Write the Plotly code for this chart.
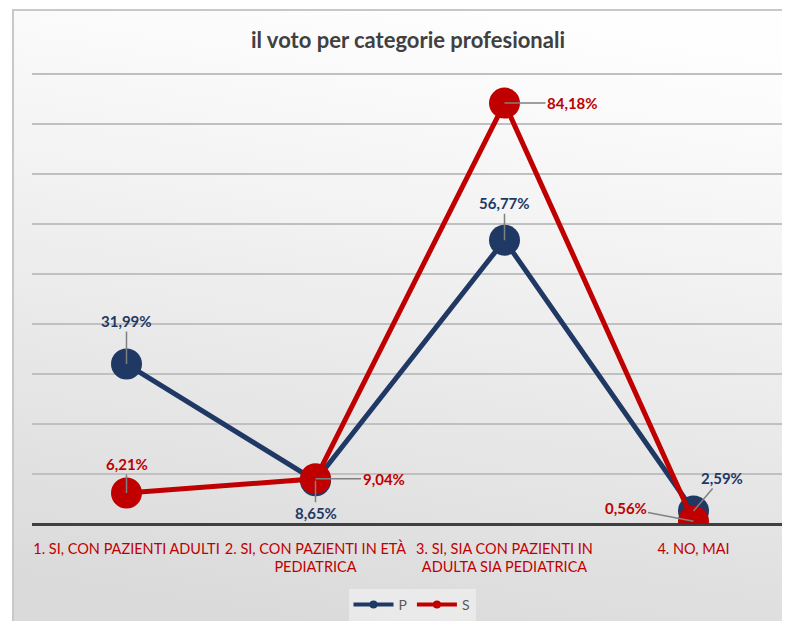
import plotly.graph_objects as go

categories = ["1. SI, CON PAZIENTI ADULTI", "2. SI, CON PAZIENTI IN ETÀ<br>PEDIATRICA",
              "3. SI, SIA CON PAZIENTI IN<br>ADULTA SIA PEDIATRICA", "4. NO, MAI"]
p_values = [31.99, 8.65, 56.77, 2.59]
s_values = [6.21, 9.04, 84.18, 0.56]
p_labels = ["31,99%", "8,65%", "56,77%", "2,59%"]
s_labels = ["6,21%", "9,04%", "84,18%", "0,56%"]

NAVY = "#1f3864"
RED = "#c00000"
FONT = "Lato"

OFF = 8  # page body margin
W, H = 790 - 2 * OFF, 629 - 2 * OFF
ML, MR, MT = 32 - OFF, 0, 64 - OFF
MB = H - (524 - OFF)
PW, PH = W - ML - MR, H - MT - MB
BAND = 189.0  # px per category in the reference
XMAX = -0.5 + PW / BAND

def px2x(px):
    return (px - OFF - ML) / PW

def py2y(py):
    return (H - MB - (py - OFF)) / PH

fig = go.Figure()

fig.add_trace(go.Scatter(x=categories, y=p_values, name="P", mode="lines+markers",
                         line=dict(color=NAVY, width=5), marker=dict(color=NAVY, size=31),
                         showlegend=False, hoverinfo="skip"))
fig.add_trace(go.Scatter(x=categories, y=s_values, name="S", mode="lines+markers",
                         line=dict(color=RED, width=5), marker=dict(color=RED, size=31),
                         showlegend=False, hoverinfo="skip"))
# legend entries
fig.add_trace(go.Scatter(x=[None], y=[None], name="P", mode="lines+markers",
                         line=dict(color=NAVY, width=4), marker=dict(color=NAVY, size=8)))
fig.add_trace(go.Scatter(x=[None], y=[None], name="S", mode="lines+markers",
                         line=dict(color=RED, width=4), marker=dict(color=RED, size=8)))

# data labels with leader lines (offsets in px)
p_off = [(0, -43), (0, 32), (0, -37), (28, -33)]
s_off = [(0, -29), (68, 0), (68, 0), (-68, -13)]
for vals, labs, offs, col in [(p_values, p_labels, p_off, NAVY), (s_values, s_labels, s_off, RED)]:
    for c, v, t, (ax, ay) in zip(categories, vals, labs, offs):
        fig.add_annotation(x=c, y=v, text="<b>%s</b>" % t, showarrow=True, arrowhead=0,
                           arrowwidth=1.5, arrowcolor="#808080", ax=ax, ay=ay, standoff=0,
                           font=dict(family=FONT, size=15, color=col))

# background gradient
svg = ("data:image/svg+xml;utf8,<svg xmlns='http://www.w3.org/2000/svg' width='780' height='619'>"
       "<defs><linearGradient id='g' x1='0.6' y1='0' x2='0.4' y2='1'>"
       "<stop offset='0' stop-color='%23fefefe'/><stop offset='0.25' stop-color='%23f6f6f6'/>"
       "<stop offset='1' stop-color='%23dadada'/>"
       "</linearGradient></defs><rect width='780' height='619' fill='url(%23g)'/></svg>")
fig.add_layout_image(source=svg, xref="paper", yref="paper", x=px2x(13), y=py2y(10),
                     sizex=(790 - 13) / PW, sizey=(629 - 10) / PH, xanchor="left", yanchor="top",
                     sizing="stretch", layer="below")
fig.add_shape(type="rect", xref="paper", yref="paper", x0=px2x(13), y0=py2y(640),
              x1=px2x(800), y1=py2y(10), line=dict(color="#c8c8c8", width=2),
              fillcolor="rgba(0,0,0,0)", layer="below")

fig.update_layout(
    width=W, height=H,
    margin=dict(l=ML, r=MR, t=MT, b=MB),
    paper_bgcolor="white", plot_bgcolor="rgba(0,0,0,0)",
    title=dict(text="<b>il voto per categorie profesionali</b>", x=(408 - OFF) / W,
               xanchor="center", y=1 - (40 - OFF) / H, yanchor="middle",
               font=dict(family=FONT, size=22, color="#404040")),
    font=dict(family=FONT),
    legend=dict(orientation="h", x=px2x(412), xanchor="center", y=py2y(605), yanchor="middle",
                bgcolor="rgba(250,250,250,0.45)", font=dict(family=FONT, size=14, color="#595959"),
                itemwidth=40, tracegroupgap=0),
    xaxis=dict(showgrid=False, tickfont=dict(family=FONT, size=14.5, color=RED),
               showline=False, ticks="", fixedrange=True, range=[-0.5, XMAX],
               ticklabelstandoff=14),
    yaxis=dict(range=[0, 92], dtick=10, showticklabels=False, gridcolor="#c0c0c0", gridwidth=2,
               zeroline=True, zerolinecolor="#404040", zerolinewidth=3, fixedrange=True),
    showlegend=True,
)

fig.write_html("out.html")
